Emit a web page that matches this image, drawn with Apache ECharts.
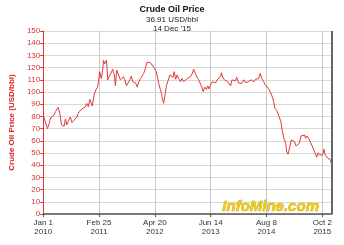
<!DOCTYPE html>
<html><head><meta charset="utf-8">
<script src="https://cdn.jsdelivr.net/npm/echarts@6/dist/echarts.min.js"></script>
<style>html,body{margin:0;padding:0;background:#fff}#c{width:344px;height:245px}</style>
</head><body><div id="c"></div>
<script>
var dates = ['2010-01-01','2010-01-16','2010-02-02','2010-02-14','2010-02-26','2010-03-11','2010-03-23','2010-04-04','2010-04-22','2010-04-29','2010-05-06','2010-05-19','2010-05-28','2010-06-07','2010-06-17','2010-06-27','2010-07-12','2010-07-24','2010-08-05','2010-08-22','2010-09-11','2010-09-28','2010-10-13','2010-10-25','2010-11-11','2010-11-24','2010-12-06','2010-12-18','2011-01-04','2011-01-19','2011-01-31','2011-02-13','2011-02-23','2011-03-02','2011-03-14','2011-03-22','2011-03-31','2011-04-08','2011-04-15','2011-04-22','2011-05-02','2011-05-15','2011-05-27','2011-06-08','2011-06-20','2011-06-28','2011-07-08','2011-07-22','2011-08-04','2011-08-16','2011-08-28','2011-09-07','2011-09-19','2011-10-02','2011-10-14','2011-10-26','2011-11-05','2011-11-15','2011-11-27','2011-12-09','2011-12-22','2012-01-03','2012-01-15','2012-01-27','2012-02-09','2012-02-21','2012-03-04','2012-03-17','2012-03-29','2012-04-10','2012-04-22','2012-04-30','2012-05-10','2012-05-19','2012-05-29','2012-06-08','2012-06-18','2012-06-25','2012-07-05','2012-07-17','2012-07-30','2012-08-11','2012-08-23','2012-09-04','2012-09-12','2012-09-24','2012-10-04','2012-10-16','2012-10-29','2012-11-10','2012-11-22','2012-12-07','2012-12-19','2012-12-31','2013-01-13','2013-01-25','2013-02-06','2013-02-18','2013-03-03','2013-03-15','2013-03-27','2013-04-09','2013-04-18','2013-05-01','2013-05-13','2013-05-23','2013-06-02','2013-06-14','2013-06-26','2013-07-08','2013-07-21','2013-08-02','2013-08-14','2013-08-27','2013-09-03','2013-09-13','2013-09-25','2013-10-08','2013-10-20','2013-11-01','2013-11-11','2013-11-21','2013-12-03','2013-12-15','2013-12-27','2014-01-09','2014-01-21','2014-02-02','2014-02-19','2014-03-06','2014-03-23','2014-04-05','2014-04-17','2014-05-04','2014-05-16','2014-05-29','2014-06-10','2014-06-22','2014-07-04','2014-07-17','2014-07-29','2014-08-10','2014-08-23','2014-09-04','2014-09-16','2014-09-28','2014-10-11','2014-10-25','2014-11-07','2014-11-14','2014-11-24','2014-12-06','2014-12-19','2014-12-31','2015-01-07','2015-01-17','2015-01-29','2015-02-11','2015-02-23','2015-03-07','2015-03-19','2015-04-01','2015-04-13','2015-04-25','2015-05-07','2015-05-20','2015-05-30','2015-06-08','2015-06-21','2015-07-03','2015-07-15','2015-07-28','2015-08-09','2015-08-21','2015-08-31','2015-09-10','2015-09-22','2015-10-04','2015-10-14','2015-10-24','2015-11-03','2015-11-13','2015-11-23','2015-12-02','2015-12-12','2015-12-14'];
var prices = [81,75.7,70,74,79,80,81,84,87.4,87,82.5,73,74.5,72,78,73,77,79.5,75,77,79.5,84,84.7,86.6,87.4,90.7,88,94,88.5,97.5,101.6,103.8,110,116.7,111,116,126,123,124.5,126,110,113,112.5,118.6,114,105,118,118.6,110,108.5,112.5,110,105,104,110,113,108.5,110,107.5,104,108.5,111,111,115.3,119.4,124.5,125,124,122.5,120.5,119,116.7,112,107,103,99,93.4,90.7,97.5,105.5,107,114,115.3,112,116.7,110.4,114,111,108.5,111,108.5,110,111,110.4,112.5,114.8,118.6,115.3,112,110,109,104,100.3,104,102,105,102.5,106,108.5,110,107.5,110,111,112.5,115.8,112,110,111,108.5,110,105,110,111,109,112,107.5,108.5,107,110,107.5,108.5,107,110,108.5,110.4,109,111,115.3,111,108.5,106,105,103,101.6,97.5,93.4,86.6,84.6,81,79.8,75.7,67.5,61.2,58,51,49,49,60.6,60,59.3,55.7,56.5,58,64,65.6,64.8,62,64,62,60.6,56.5,53,49.7,46.5,50.2,48.4,49.2,48.4,53,48.4,49.7,45.6,45,44.5,40.2,38.9];
var titleText = 'Crude Oil Price';
var subText = '36.91 USD/bbl\n14 Dec \'15';
var yAxisName = 'Crude Oil Price (USD/bbl)';
var startDate = '2010-01-01';
var endDate = '2015-12-14';
var tickDays = 420;
var months = ['Jan','Feb','Mar','Apr','May','Jun','Jul','Aug','Sep','Oct','Nov','Dec'];

var DAY = 86400000;
function toMs(s){var p=s.split('-');return Date.UTC(+p[0],+p[1]-1,+p[2]);}
var t0 = toMs(startDate);
function dayOf(s){return Math.round((toMs(s)-t0)/DAY);}
var maxDay = dayOf(endDate);
var seriesData = dates.map(function(d,i){return [dayOf(d), prices[i]];});

var chart = echarts.init(document.getElementById('c'));
chart.setOption({
  animation:false,
  title:{text:titleText, subtext:subText, left:'center', top:0, itemGap:1,
    textStyle:{fontFamily:'Liberation Sans',fontSize:9,fontWeight:'bold',color:'#111'},
    subtextStyle:{fontFamily:'Liberation Sans',fontSize:8,color:'#222',lineHeight:9}},
  grid:{left:37,right:12,top:31,bottom:31},
  xAxis:{type:'value',min:0,max:maxDay,interval:tickDays,
    axisLine:{lineStyle:{color:'#555',width:1.5}},
    axisTick:{show:true,length:3,lineStyle:{color:'#555'}},
    splitLine:{show:true,lineStyle:{color:'#c8c8c8',width:1}},
    axisLabel:{fontFamily:'Liberation Sans',fontSize:8,color:'#333',lineHeight:9,margin:4,showMaxLabel:false,
      formatter:function(v){var d=new Date(t0+v*DAY);return months[d.getUTCMonth()]+' '+d.getUTCDate()+'\n'+d.getUTCFullYear();}}},
  yAxis:{type:'value',min:0,max:150,interval:10,name:yAxisName,nameLocation:'middle',nameGap:18,
    nameTextStyle:{fontFamily:'Liberation Sans',fontSize:8,fontWeight:'bold',color:'#dd2222'},
    axisLine:{show:true,lineStyle:{color:'#e03030',width:1}},
    axisTick:{show:true,length:3,lineStyle:{color:'#e03030'}},
    splitLine:{show:true,lineStyle:{color:'#d8d8d8',width:1}},
    axisLabel:{fontFamily:'Liberation Sans',fontSize:8,color:'#e03030',margin:3}},
  graphic:[
    {type:'line',shape:{x1:332,y1:31,x2:332,y2:214},style:{stroke:'#666',lineWidth:2},z:10},
    {type:'text',left:222,top:199,z:20,style:{text:'InfoMine.com',font:'italic bold 15px "Liberation Sans"',fill:'#f2cc10',stroke:'#b89a30',lineWidth:0.6}}
  ],
  series:[{type:'line',data:seriesData,showSymbol:false,symbol:'none',
    lineStyle:{color:'#e0393a',width:1},z:5}]
});
</script></body></html>
